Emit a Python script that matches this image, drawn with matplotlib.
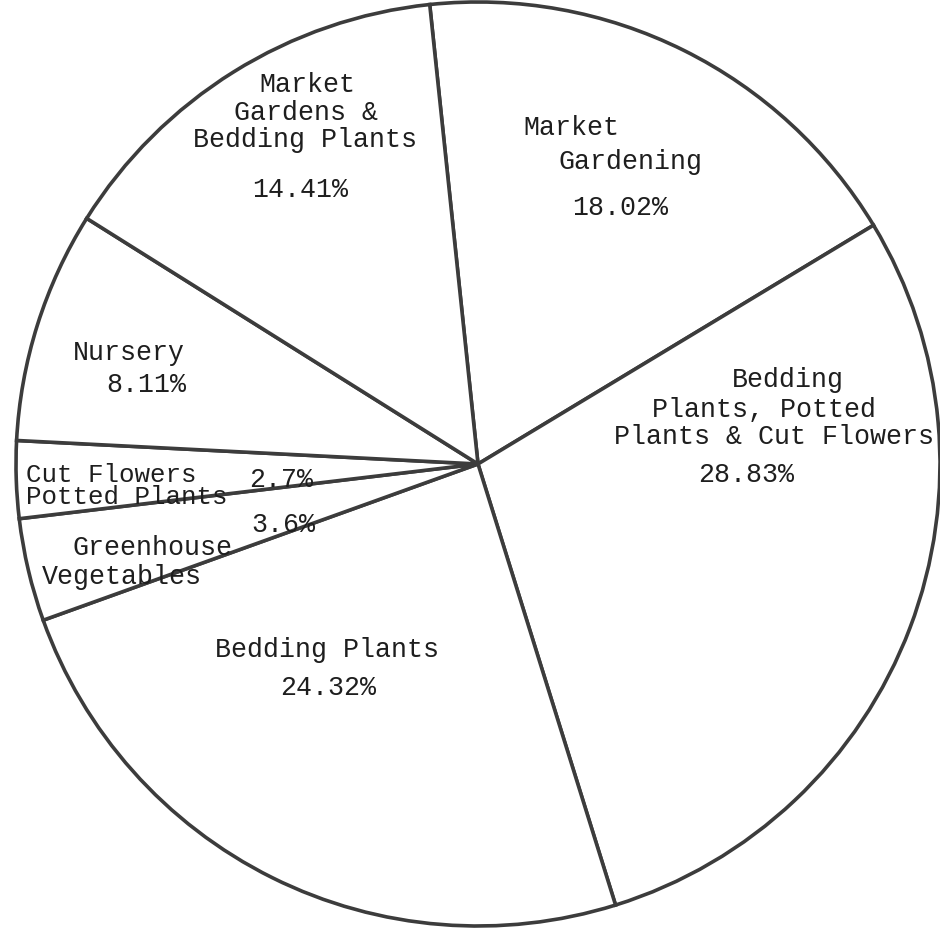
import matplotlib
matplotlib.use("Agg")
import matplotlib.pyplot as plt

# Data
categories = ["Market Gardening",
              "Bedding Plants, Potted Plants & Cut Flowers",
              "Bedding Plants",
              "Greenhouse Vegetables",
              "Cut Flowers Potted Plants",
              "Nursery",
              "Market Gardens & Bedding Plants"]
values = [18.02, 28.83, 24.32, 3.6, 2.7, 8.11, 14.41]
pct_labels = ["18.02%", "28.83%", "24.32%", "3.6%", "2.7%", "8.11%", "14.41%"]

W, H = 940, 930
fig = plt.figure(figsize=(W / 100, H / 100), dpi=100)
ax = fig.add_axes([0, 0, 1, 1])

ax.pie(values, radius=462, center=(478, H - 464), startangle=96,
       counterclock=False,
       wedgeprops=dict(edgecolor="#3c3c3c", linewidth=2.6, facecolor="white"))
ax.set_xlim(0, W)
ax.set_ylim(0, H)
ax.set_aspect("equal")
ax.axis("off")

font = dict(family=["Liberation Mono", "DejaVu Sans Mono"], fontsize=19.2,
            color="#1e1e1e", va="center")

def put(x, y, s, ha="center", **kw):
    d = dict(font)
    d.update(kw)
    ax.text(x, H - y, s, ha=ha, **d)

# Market Gardens & Bedding Plants
put(307, 85, "Market")
put(306, 113, "Gardens &")
put(305, 140, "Bedding Plants")
put(300, 190, pct_labels[6])

# Market Gardening
put(523, 128, "Market", ha="left")
put(558, 162, "Gardening", ha="left")
put(620, 208, pct_labels[0])

# Bedding Plants, Potted Plants & Cut Flowers
put(732, 380, "Bedding", ha="left")
put(652, 410, "Plants, Potted", ha="left")
put(614, 437, "Plants & Cut Flowers", ha="left")
put(746, 475, pct_labels[1])

# Nursery
put(73, 353, "Nursery", ha="left")
put(146, 385, pct_labels[5])

# Cut Flowers / Potted Plants
put(26, 475, "Cut Flowers", ha="left", fontsize=18.6)
put(26, 497, "Potted Plants", ha="left", fontsize=18.6)
put(281, 480, pct_labels[4])

# Greenhouse Vegetables
put(283, 525, pct_labels[3])
put(73, 548, "Greenhouse", ha="left")
put(42, 577, "Vegetables", ha="left")

# Bedding Plants
put(327, 650, "Bedding Plants")
put(328, 688, pct_labels[2])

fig.savefig("out.png", dpi=100, facecolor="white")
